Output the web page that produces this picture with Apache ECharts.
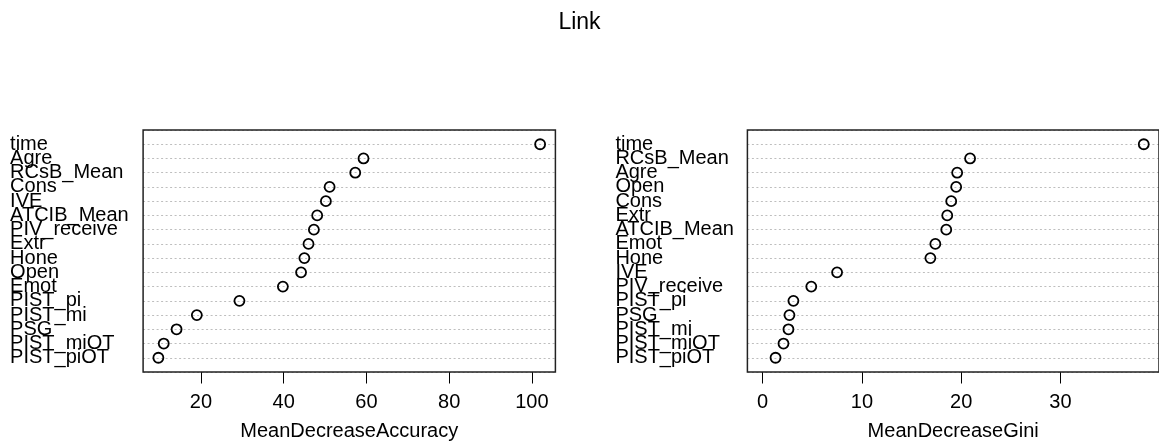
<!DOCTYPE html>
<html>
<head>
<meta charset="utf-8">
<script src="https://cdn.jsdelivr.net/npm/echarts@6/dist/echarts.min.js"></script>
<style>
html,body{margin:0;padding:0;background:#fff;}
#c{width:1159px;height:448px;}
</style>
</head>
<body>
<div id="c"></div>
<script>
// Data (top-to-bottom order as shown)
const accLabels = ["time","Agre","RCsB_Mean","Cons","IVE","ATCIB_Mean","PIV_receive","Extr","Hone","Open","Emot","PIST_pi","PIST_mi","PSG","PIST_miOT","PIST_piOT"];
const accValues = [102.0,59.3,57.3,51.1,50.2,48.1,47.3,46.0,45.0,44.2,39.8,29.3,19.0,14.1,11.0,9.7];
const giniLabels = ["time","RCsB_Mean","Agre","Open","Cons","Extr","ATCIB_Mean","Emot","Hone","IVE","PIV_receive","PIST_pi","PSG","PIST_mi","PIST_miOT","PIST_piOT"];
const giniValues = [38.4,20.9,19.6,19.5,19.0,18.6,18.5,17.4,16.9,7.5,4.9,3.1,2.7,2.6,2.1,1.3];
const accTicks = [20,40,60,80,100];
const giniTicks = [0,10,20,30];

const FONT = "'Liberation Sans', Arial, Helvetica, sans-serif";
const n = accLabels.length;

// R dotchart-style range extension (4%)
function ext(lo, hi){ const r = hi - lo; return [lo - 0.04*r, hi + 0.04*r]; }
const accRange = ext(Math.min(...accValues), Math.max(...accValues));
const giniRange = ext(0, Math.max(...giniValues));

function toPts(vals){ return vals.map((v,i)=>[v, n - i]); }

function yAxis(gi, labels, margin){
  return {
    type:'value', gridIndex:gi, min:0, max:n+1, interval:1, z:0,
    axisLine:{show:false}, axisTick:{show:false},
    splitLine:{show:true, lineStyle:{color:'#bebebe', type:[2,2.5], width:1}},
    axisLabel:{
      show:true, align:'left', margin:margin, fontSize:20, color:'#000', fontFamily:FONT,
      formatter:function(v){ v=Math.round(v); return (v>=1 && v<=n) ? labels[n - v] : ''; }
    }
  };
}
function xAxis(gi, range, ticks, name){
  return {
    type:'value', gridIndex:gi, min:range[0], max:range[1], z:0,
    axisLine:{show:false},
    axisTick:{show:true, customValues:ticks, length:11.5, lineStyle:{color:'#000', width:1}},
    axisLabel:{show:true, customValues:ticks, margin:20, fontSize:20, color:'#000', fontFamily:FONT},
    splitLine:{show:false},
    name:name, nameLocation:'middle', nameGap:49,
    nameTextStyle:{fontSize:20, color:'#000', fontFamily:FONT}
  };
}
const sym = {type:'scatter', symbol:'circle', symbolSize:10,
  itemStyle:{color:'rgba(0,0,0,0)', borderColor:'#000', borderWidth:1.8, opacity:1},
  emphasis:{disabled:true}, silent:true};

const chart = echarts.init(document.getElementById('c'), null, {renderer:'canvas'});
chart.setOption({
  backgroundColor:'#fff',
  animation:false,
  title:{text:'Link', left:'center', top:6, textStyle:{fontSize:23, fontWeight:'normal', color:'#000', fontFamily:FONT}},
  grid:[
    {left:143.1, top:130, width:412.3, height:242, show:true, z:3, borderColor:'#222', borderWidth:1.5, backgroundColor:'transparent'},
    {left:747.4, top:130, width:412.3, height:242, show:true, z:3, borderColor:'#222', borderWidth:1.5, backgroundColor:'transparent'}
  ],
  xAxis:[xAxis(0, accRange, accTicks, 'MeanDecreaseAccuracy'), xAxis(1, giniRange, giniTicks, 'MeanDecreaseGini')],
  yAxis:[yAxis(0, accLabels, 133), yAxis(1, giniLabels, 132)],
  series:[
    Object.assign({}, sym, {xAxisIndex:0, yAxisIndex:0, data:toPts(accValues), z:5}),
    Object.assign({}, sym, {xAxisIndex:1, yAxisIndex:1, data:toPts(giniValues), z:5})
  ]
});
</script>
</body>
</html>
